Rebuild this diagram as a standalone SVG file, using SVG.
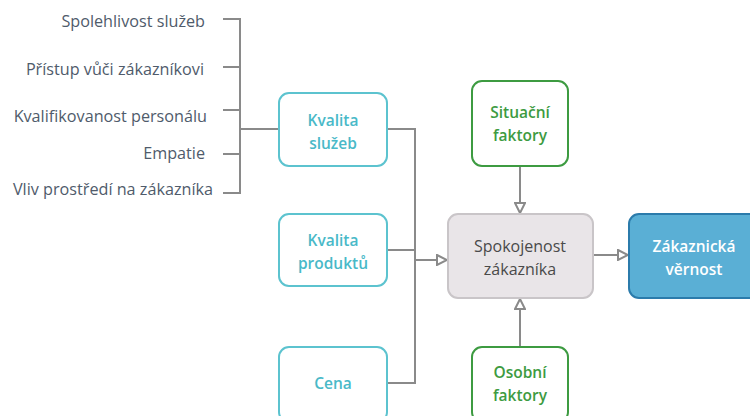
<svg xmlns="http://www.w3.org/2000/svg" width="750" height="416" viewBox="0 0 750 416">
<style>
.lbl{font-family:"Open Sans","Liberation Sans",sans-serif;font-size:16.2px;fill:#4f5b6b;text-anchor:end}
.ln{fill:none;stroke:#8a8a8a;stroke-width:2}
.teal rect{fill:#fff;stroke:#5cc3cf;stroke-width:2}
.teal text{fill:#49b9c8}
.green rect{fill:#fff;stroke:#3d9b41;stroke-width:2}
.green text{fill:#3d9b41}
.nt{font-family:"Open Sans","Liberation Sans",sans-serif;font-size:15.5px;font-weight:600;text-anchor:middle}
.sp{font-family:"Open Sans","Liberation Sans",sans-serif;font-size:16px;fill:#4a4a4a;text-anchor:middle}
</style>
<defs>
<marker id="ah" viewBox="0 0 12 12" refX="11" refY="6" markerWidth="12" markerHeight="12" markerUnits="userSpaceOnUse" orient="auto">
<path d="M1,1 L11,6 L1,11 Z" fill="#fff" stroke="#8a8a8a" stroke-width="2"/>
</marker>
</defs>
<g id="labels">
<text class="lbl" x="205" y="27">Spolehlivost služeb</text>
<text class="lbl" x="204" y="75">Přístup vůči zákazníkovi</text>
<text class="lbl" x="207" y="122">Kvalifikovanost personálu</text>
<text class="lbl" x="205" y="159">Empatie</text>
<text class="lbl" x="213" y="195">Vliv prostředí na zákazníka</text>
</g>
<g id="connectors">
<path class="ln" d="M223,19 H240 V193 H223 M223,67 H240 M223,110 H240 M223,154 H240 M240,129 H279"/>
<path class="ln" d="M387,129 H415 V383 H387 M387,250 H415"/>
<path class="ln" d="M415,260 H447" marker-end="url(#ah)"/>
<path class="ln" d="M593,255 H628" marker-end="url(#ah)"/>
<path class="ln" d="M520,166 V213" marker-end="url(#ah)"/>
<path class="ln" d="M520,347 V299" marker-end="url(#ah)"/>
</g>
<g id="kvalita-sluzeb" class="teal">
<rect x="279" y="93" width="108" height="73" rx="10"/>
<text class="nt" x="333" y="126">Kvalita</text>
<text class="nt" x="333" y="149">služeb</text>
</g>
<g id="kvalita-produktu" class="teal">
<rect x="279" y="214" width="108" height="72" rx="10"/>
<text class="nt" x="333" y="246">Kvalita</text>
<text class="nt" x="333" y="269">produktů</text>
</g>
<g id="cena" class="teal">
<rect x="279" y="347" width="108" height="75" rx="10"/>
<text class="nt" x="333" y="389">Cena</text>
</g>
<g id="situacni" class="green">
<rect x="472" y="81" width="96" height="85" rx="10"/>
<text class="nt" x="520" y="118">Situační</text>
<text class="nt" x="520" y="141">faktory</text>
</g>
<g id="osobni" class="green">
<rect x="472" y="347" width="96" height="75" rx="10"/>
<text class="nt" x="520" y="378">Osobní</text>
<text class="nt" x="520" y="401">faktory</text>
</g>
<g id="spokojenost">
<rect x="448" y="214" width="145" height="84" rx="10" fill="#e9e5e8" stroke="#c9c5c8" stroke-width="2"/>
<text class="sp" x="520" y="252">Spokojenost</text>
<text class="sp" x="520" y="275">zákazníka</text>
</g>
<g id="vernost">
<rect x="629" y="214" width="135" height="84" rx="10" fill="#5aafd5" stroke="#2b7bab" stroke-width="2"/>
<text class="nt" x="694" y="252" fill="#fff">Zákaznická</text>
<text class="nt" x="694" y="275" fill="#fff">věrnost</text>
</g>
</svg>
